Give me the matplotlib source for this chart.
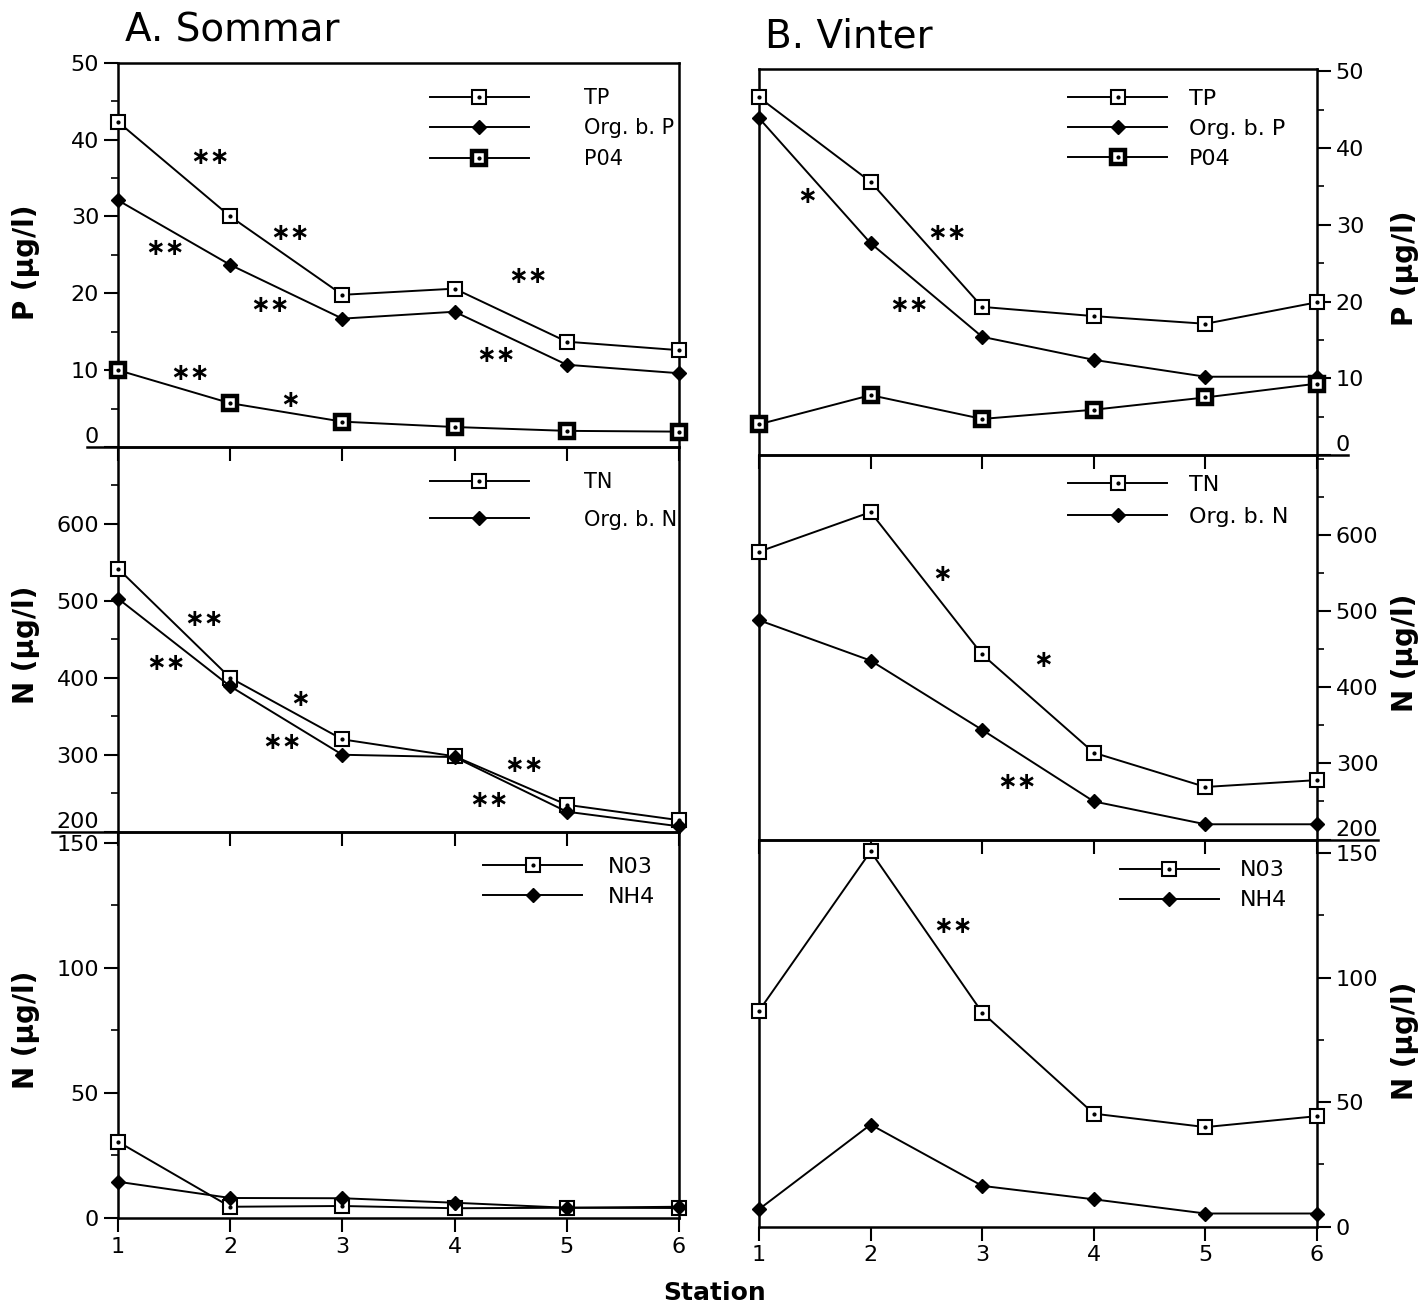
import matplotlib
matplotlib.use("Agg")
import numpy as np
import matplotlib.pyplot as plt
from matplotlib.ticker import MultipleLocator

stations = [1, 2, 3, 4, 5, 6]

# A. Sommar
s_tp = [42.3, 30.0, 19.8, 20.6, 13.7, 12.6]
s_orgp = [32.1, 23.7, 16.7, 17.6, 10.7, 9.6]
s_po4 = [10.0, 5.7, 3.3, 2.6, 2.1, 2.0]
s_tn = [542, 400, 320, 298, 235, 215]
s_orgn = [503, 389, 300, 297, 226, 207]
s_no3 = [30.5, 4.5, 4.8, 3.9, 4.1, 4.0]
s_nh4 = [14.5, 8.0, 7.9, 6.1, 4.1, 4.5]

# B. Vinter
v_tp = [46.6, 35.6, 19.3, 18.1, 17.1, 19.9]
v_orgp = [43.9, 27.6, 15.4, 12.4, 10.2, 10.2]
v_po4 = [4.0, 7.8, 4.7, 5.9, 7.5, 9.3]
v_tn = [578, 630, 443, 314, 269, 278]
v_orgn = [488, 435, 344, 250, 220, 220]
v_no3 = [86.7, 150.7, 86.0, 45.4, 40.0, 44.4]
v_nh4 = [7.0, 41.0, 16.4, 11.0, 5.3, 5.3]

# significance marks (station position, value, text)
stars_sp = [(1.82, 37.7, "∗∗"), (2.53, 27.8, "∗∗"), (1.42, 25.9, "∗∗"), (2.35, 18.5, "∗∗"),
            (4.65, 22.2, "∗∗"), (4.37, 12.0, "∗∗"), (1.64, 9.6, "∗∗"), (2.53, 6.1, "∗")]
stars_sn = [(1.77, 477, "∗∗"), (1.43, 419, "∗∗"), (2.62, 372, "∗"), (2.46, 317, "∗∗"),
            (4.62, 287, "∗∗"), (4.31, 241, "∗∗")]
stars_vp = [(1.43, 33.8, "∗"), (2.68, 28.9, "∗∗"), (2.34, 19.6, "∗∗")]
stars_vn = [(2.64, 549, "∗"), (3.55, 436, "∗"), (3.31, 276, "∗∗")]
stars_vno = [(2.74, 120.7, "∗∗")]

W, H = 1427, 1306
fig = plt.figure(figsize=(W / 100, H / 100), dpi=100)
plt.rcParams["font.family"] = "DejaVu Sans"
FS = 16
LW = 1.4


def px_axes(x0, x1, ytop, ybot):
    return fig.add_axes([x0 / W, 1 - ybot / H, (x1 - x0) / W, (ybot - ytop) / H])


def open_sq(ax, y, thick=False):
    mew = 3.2 if thick else 1.5
    l1, = ax.plot(stations, y, color="black", lw=LW, marker="s", ms=10, mfc="white",
                  mec="black", mew=mew, zorder=3, clip_on=False)
    l2, = ax.plot(stations, y, ls="none", marker="o", ms=2, color="black", zorder=4, clip_on=False)
    return (l1, l2)


def diamond(ax, y):
    l, = ax.plot(stations, y, color="black", lw=LW, marker="D", ms=7, mfc="black",
                 mec="black", zorder=3, clip_on=False)
    return l


def style(ax, ylim, ymax_lab, major, minor, right=False, bottom_labels=False, raise_low=False):
    ax.set_xlim(1, 6)
    ax.set_ylim(*ylim)
    ax.patch.set_alpha(0)
    for s in ax.spines.values():
        s.set_linewidth(1.8)
    ax.set_xticks(stations)
    ax.tick_params(axis="x", direction="out", length=10, width=1.5, labelsize=FS,
                   labelbottom=bottom_labels)
    ax.set_yticks(np.arange(ylim[0], ymax_lab + 0.1, major))
    ax.yaxis.set_minor_locator(MultipleLocator(minor))
    ax.tick_params(axis="y", which="major", direction="out", length=10, width=1.5, labelsize=FS)
    ax.tick_params(axis="y", which="minor", direction="out", length=5, width=1.2)
    if right:
        ax.yaxis.tick_right()
    if raise_low:
        t = ax.yaxis.get_major_ticks()[0]
        t.label1.set_va("bottom")
        t.label2.set_va("bottom")


def stars(ax, marks):
    for x, y, t in marks:
        ax.text(x, y, t, ha="center", va="center", fontsize=17, fontweight="bold")


def legend(ax, handles, labels, x, y, tpad, spacing, fs=FS):
    ax.legend(handles, labels, loc="upper left", bbox_to_anchor=(x, y), frameon=False,
              fontsize=fs, handlelength=4.45 * FS / fs, handletextpad=tpad, labelspacing=spacing,
              borderpad=0, borderaxespad=0, numpoints=1)


def ext(ax, x0, x1):
    ax.plot([x0, x1], [0, 0], transform=ax.transAxes, color="black", lw=1.8, clip_on=False)


# ---- A. Sommar ----
ax1 = px_axes(118, 679, 62.7, 447)
style(ax1, (0, 50), 50, 10, 5, raise_low=True)
h1 = open_sq(ax1, s_tp)
h2 = diamond(ax1, s_orgp)
h3 = open_sq(ax1, s_po4, thick=True)
stars(ax1, stars_sp)
legend(ax1, [h1, h2, h3], ["TP", "Org. b. P", "P04"], 0.556, 0.934, 2.65, 0.5, fs=15)
ext(ax1, -0.055, 0)

ax2 = px_axes(118, 679, 447, 831.7)
style(ax2, (200, 700), 600, 100, 50, raise_low=True)
h1 = open_sq(ax2, s_tn)
h2 = diamond(ax2, s_orgn)
stars(ax2, stars_sn)
legend(ax2, [h1, h2], ["TN", "Org. b. N"], 0.556, 0.935, 2.65, 0.85, fs=15)
ext(ax2, -0.118, 0)

ax3 = px_axes(118, 679, 831.7, 1218)
style(ax3, (0, 154.5), 150, 50, 25, bottom_labels=True)
h1 = open_sq(ax3, s_no3)
h2 = diamond(ax3, s_nh4)
legend(ax3, [h1, h2], ["N03", "NH4"], 0.651, 0.9345, 1.15, 0.45)

# ---- B. Vinter ----
bx1 = px_axes(759, 1317, 69, 455)
style(bx1, (0, 50.3), 50, 10, 5, right=True, raise_low=True)
h1 = open_sq(bx1, v_tp)
h2 = diamond(bx1, v_orgp)
h3 = open_sq(bx1, v_po4, thick=True)
stars(bx1, stars_vp)
legend(bx1, [h1, h2, h3], ["TP", "Org. b. P", "P04"], 0.554, 0.948, 1.0, 0.45)
ext(bx1, 1, 1.056)

bx2 = px_axes(759, 1317, 455, 839.5)
style(bx2, (200, 705), 600, 100, 50, right=True, raise_low=True)
h1 = open_sq(bx2, v_tn)
h2 = diamond(bx2, v_orgn)
stars(bx2, stars_vn)
legend(bx2, [h1, h2], ["TN", "Org. b. N"], 0.554, 0.948, 1.0, 0.55)
ext(bx2, 1, 1.109)

bx3 = px_axes(759, 1317, 839.5, 1226.7)
style(bx3, (0, 155.5), 150, 50, 25, right=True, bottom_labels=True)
h1 = open_sq(bx3, v_no3)
h2 = diamond(bx3, v_nh4)
stars(bx3, stars_vno)
legend(bx3, [h1, h2], ["N03", "NH4"], 0.647, 0.946, 0.95, 0.45)

# titles and axis labels
fig.text(125 / W, 1 - 30 / H, "A. Sommar", fontsize=28, ha="left", va="center")
fig.text(765 / W, 1 - 36 / H, "B. Vinter", fontsize=28, ha="left", va="center")
lab = "(µg/l)"
for x, y, t in [(26, 262, "P " + lab), (26, 645, "N " + lab), (26, 1030, "N " + lab),
                (1405, 268, "P " + lab), (1405, 653, "N " + lab), (1405, 1041, "N " + lab)]:
    fig.text(x / W, 1 - y / H, t, rotation=90, fontsize=20, fontweight="bold",
             ha="center", va="center")
fig.text(715 / W, 1 - 1293 / H, "Station", fontsize=18, fontweight="bold", ha="center", va="center")

fig.savefig("out.png", dpi=100)
